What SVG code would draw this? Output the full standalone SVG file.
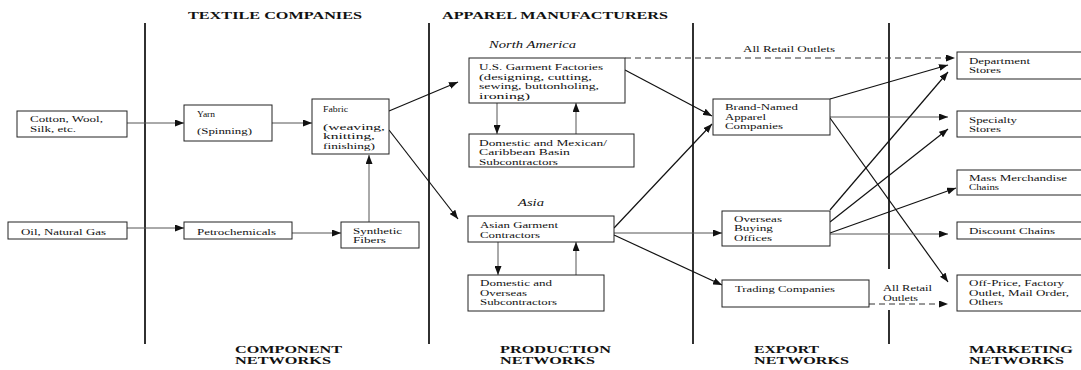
<svg xmlns="http://www.w3.org/2000/svg" width="1081" height="370" viewBox="0 0 1081 370">
  <style>
    text { font-family: "Liberation Serif", "Times New Roman", serif; font-size: 9px; fill: #111; }
    .h { font-weight: bold; font-size: 10px; }
    .i { font-style: italic; font-size: 10px; }
    .box { fill: #fff; stroke: #222; stroke-width: 1; }
    .sep { stroke: #1a1a1a; stroke-width: 1.8; fill: none; }
    .c { stroke: #111; stroke-width: 1.2; fill: none; marker-end: url(#ah); }
    .cl { stroke: #555; stroke-width: 1; fill: none; marker-end: url(#ah); }
    .d { stroke: #333; stroke-width: 1; stroke-dasharray: 6 4; fill: none; marker-end: url(#ah); }
  </style>
  <defs>
    <marker id="ah" markerUnits="userSpaceOnUse" markerWidth="9" markerHeight="7" refX="9" refY="3.5" orient="auto">
      <path d="M0,0 L9,3.5 L0,7 z" fill="#111"/>
    </marker>
  </defs>
  <rect width="1081" height="370" fill="#fff"/>

  <!-- column separators -->
  <g id="separators">
    <line class="sep" x1="145" y1="23" x2="145" y2="344"/>
    <line class="sep" x1="429" y1="23" x2="429" y2="344"/>
    <line class="sep" x1="693" y1="23" x2="693" y2="344"/>
    <line class="sep" x1="889" y1="23" x2="889" y2="269"/>
    <line class="sep" x1="889" y1="310" x2="889" y2="344"/>
  </g>

  <!-- column headings -->
  <g id="headings">
    <text class="h" x="188" y="19" textLength="174" lengthAdjust="spacingAndGlyphs">TEXTILE COMPANIES</text>
    <text class="h" x="442" y="19" textLength="226" lengthAdjust="spacingAndGlyphs">APPAREL MANUFACTURERS</text>
    <text class="h" x="235" y="352.5" textLength="107" lengthAdjust="spacingAndGlyphs">COMPONENT</text>
    <text class="h" x="235" y="364" textLength="96" lengthAdjust="spacingAndGlyphs">NETWORKS</text>
    <text class="h" x="500" y="352.5" textLength="111" lengthAdjust="spacingAndGlyphs">PRODUCTION</text>
    <text class="h" x="500" y="364" textLength="95" lengthAdjust="spacingAndGlyphs">NETWORKS</text>
    <text class="h" x="754" y="352.5" textLength="65" lengthAdjust="spacingAndGlyphs">EXPORT</text>
    <text class="h" x="754" y="364" textLength="95" lengthAdjust="spacingAndGlyphs">NETWORKS</text>
    <text class="h" x="969" y="352.5" textLength="104" lengthAdjust="spacingAndGlyphs">MARKETING</text>
    <text class="h" x="969" y="364" textLength="95" lengthAdjust="spacingAndGlyphs">NETWORKS</text>
    <text class="i" x="489" y="47.5" textLength="87" lengthAdjust="spacingAndGlyphs">North America</text>
    <text class="i" x="518" y="206" textLength="26" lengthAdjust="spacingAndGlyphs">Asia</text>
  </g>

  <!-- connectors -->
  <g id="connectors">
    <line class="cl" x1="127" y1="123" x2="184" y2="123"/>
    <line class="cl" x1="272" y1="123" x2="312" y2="123"/>
    <line class="cl" x1="127" y1="228" x2="184" y2="228"/>
    <line class="cl" x1="292" y1="233" x2="341" y2="233"/>
    <line class="cl" x1="369" y1="222" x2="369" y2="155"/>
    <line class="c" x1="389" y1="111" x2="458" y2="82"/>
    <line class="c" x1="389" y1="130" x2="458" y2="219"/>
    <line class="cl" x1="497" y1="103" x2="497" y2="134"/>
    <line class="cl" x1="576" y1="134" x2="576" y2="103"/>
    <line class="c" x1="625" y1="70" x2="712" y2="116"/>
    <line class="d" x1="625" y1="58" x2="955" y2="58"/>
    <line class="cl" x1="498" y1="242" x2="498" y2="275"/>
    <line class="cl" x1="576" y1="275" x2="576" y2="242"/>
    <line class="c" x1="614" y1="228" x2="712" y2="124"/>
    <line class="cl" x1="614" y1="233" x2="722" y2="233"/>
    <line class="c" x1="614" y1="235" x2="722" y2="285"/>
    <line class="c" x1="830" y1="99" x2="948" y2="65"/>
    <line class="cl" x1="830" y1="117" x2="948" y2="117"/>
    <line class="c" x1="830" y1="118" x2="948" y2="282"/>
    <line class="c" x1="830" y1="210" x2="948" y2="72"/>
    <line class="c" x1="830" y1="222" x2="948" y2="129"/>
    <line class="c" x1="830" y1="233" x2="956" y2="188"/>
    <line class="cl" x1="830" y1="234" x2="948" y2="234"/>
    <line class="d" x1="869" y1="304" x2="948" y2="304"/>
    <text x="743" y="52" textLength="92" lengthAdjust="spacingAndGlyphs">All Retail Outlets</text>
    <text x="883" y="291" textLength="49" lengthAdjust="spacingAndGlyphs">All Retail</text>
    <text x="883" y="300.5" textLength="35" lengthAdjust="spacingAndGlyphs">Outlets</text>
  </g>

  <!-- component networks -->
  <g id="cotton">
    <rect class="box" x="17" y="111" width="110" height="26"/>
    <text x="30" y="122" textLength="73" lengthAdjust="spacingAndGlyphs">Cotton, Wool,</text>
    <text x="30" y="131.5" textLength="46" lengthAdjust="spacingAndGlyphs">Silk, etc.</text>
  </g>
  <g id="yarn">
    <rect class="box" x="184" y="105" width="88" height="36"/>
    <text x="197" y="117" textLength="18" lengthAdjust="spacingAndGlyphs">Yarn</text>
    <text x="197" y="134" textLength="55" lengthAdjust="spacingAndGlyphs">(Spinning)</text>
  </g>
  <g id="fabric">
    <rect class="box" x="312" y="99" width="77" height="55"/>
    <text x="323" y="111.5" textLength="25" lengthAdjust="spacingAndGlyphs">Fabric</text>
    <text x="323" y="129.5" textLength="62" lengthAdjust="spacingAndGlyphs">(weaving,</text>
    <text x="323" y="139" textLength="52" lengthAdjust="spacingAndGlyphs">knitting,</text>
    <text x="323" y="148.5" textLength="52" lengthAdjust="spacingAndGlyphs">finishing)</text>
  </g>
  <g id="oil">
    <rect class="box" x="8" y="222" width="119" height="17"/>
    <text x="21" y="234.5" textLength="85" lengthAdjust="spacingAndGlyphs">Oil, Natural Gas</text>
  </g>
  <g id="petrochemicals">
    <rect class="box" x="184" y="222" width="108" height="17"/>
    <text x="197" y="234.5" textLength="79" lengthAdjust="spacingAndGlyphs">Petrochemicals</text>
  </g>
  <g id="synthetic">
    <rect class="box" x="341" y="222" width="78" height="26"/>
    <text x="353" y="233.5" textLength="49" lengthAdjust="spacingAndGlyphs">Synthetic</text>
    <text x="353" y="243" textLength="33" lengthAdjust="spacingAndGlyphs">Fibers</text>
  </g>

  <!-- production networks -->
  <g id="us-factories">
    <rect class="box" x="469" y="58" width="156" height="45"/>
    <text x="479" y="70" textLength="124" lengthAdjust="spacingAndGlyphs">U.S. Garment Factories</text>
    <text x="479" y="79.5" textLength="113" lengthAdjust="spacingAndGlyphs">(designing, cutting,</text>
    <text x="479" y="89" textLength="120" lengthAdjust="spacingAndGlyphs">sewing, buttonholing,</text>
    <text x="479" y="98.5" textLength="51" lengthAdjust="spacingAndGlyphs">ironing)</text>
  </g>
  <g id="mexican-subcontractors">
    <rect class="box" x="469" y="134" width="165" height="33"/>
    <text x="479" y="145.5" textLength="128" lengthAdjust="spacingAndGlyphs">Domestic and Mexican/</text>
    <text x="479" y="155" textLength="91" lengthAdjust="spacingAndGlyphs">Caribbean Basin</text>
    <text x="479" y="164.5" textLength="79" lengthAdjust="spacingAndGlyphs">Subcontractors</text>
  </g>
  <g id="asian-contractors">
    <rect class="box" x="468" y="216" width="146" height="26"/>
    <text x="480" y="228" textLength="78" lengthAdjust="spacingAndGlyphs">Asian Garment</text>
    <text x="480" y="237.5" textLength="60" lengthAdjust="spacingAndGlyphs">Contractors</text>
  </g>
  <g id="overseas-subcontractors">
    <rect class="box" x="468" y="275" width="136" height="36"/>
    <text x="480" y="286" textLength="72" lengthAdjust="spacingAndGlyphs">Domestic and</text>
    <text x="480" y="295.5" textLength="47" lengthAdjust="spacingAndGlyphs">Overseas</text>
    <text x="480" y="305" textLength="77" lengthAdjust="spacingAndGlyphs">Subcontractors</text>
  </g>

  <!-- export networks -->
  <g id="brand-named">
    <rect class="box" x="713" y="99" width="117" height="36"/>
    <text x="725" y="110" textLength="73" lengthAdjust="spacingAndGlyphs">Brand-Named</text>
    <text x="725" y="119.5" textLength="41" lengthAdjust="spacingAndGlyphs">Apparel</text>
    <text x="725" y="129" textLength="58" lengthAdjust="spacingAndGlyphs">Companies</text>
  </g>
  <g id="buying-offices">
    <rect class="box" x="722" y="211" width="108" height="35"/>
    <text x="734" y="221.5" textLength="48" lengthAdjust="spacingAndGlyphs">Overseas</text>
    <text x="734" y="231" textLength="39" lengthAdjust="spacingAndGlyphs">Buying</text>
    <text x="734" y="240.5" textLength="38" lengthAdjust="spacingAndGlyphs">Offices</text>
  </g>
  <g id="trading">
    <rect class="box" x="722" y="280" width="147" height="27"/>
    <text x="735" y="291.5" textLength="100" lengthAdjust="spacingAndGlyphs">Trading Companies</text>
  </g>

  <!-- marketing networks -->
  <g id="department">
    <rect class="box" x="957" y="52" width="140" height="27"/>
    <text x="969" y="63.5" textLength="61" lengthAdjust="spacingAndGlyphs">Department</text>
    <text x="969" y="73" textLength="32" lengthAdjust="spacingAndGlyphs">Stores</text>
  </g>
  <g id="specialty">
    <rect class="box" x="957" y="111" width="140" height="26"/>
    <text x="969" y="122.5" textLength="48" lengthAdjust="spacingAndGlyphs">Specialty</text>
    <text x="969" y="132" textLength="32" lengthAdjust="spacingAndGlyphs">Stores</text>
  </g>
  <g id="mass">
    <rect class="box" x="957" y="170" width="140" height="25"/>
    <text x="969" y="180.5" textLength="98" lengthAdjust="spacingAndGlyphs">Mass Merchandise</text>
    <text x="969" y="190" textLength="30" lengthAdjust="spacingAndGlyphs">Chains</text>
  </g>
  <g id="discount">
    <rect class="box" x="957" y="222" width="140" height="17"/>
    <text x="969" y="234" textLength="86" lengthAdjust="spacingAndGlyphs">Discount Chains</text>
  </g>
  <g id="off-price">
    <rect class="box" x="957" y="275" width="140" height="36"/>
    <text x="969" y="286" textLength="95" lengthAdjust="spacingAndGlyphs">Off-Price, Factory</text>
    <text x="969" y="295.5" textLength="100" lengthAdjust="spacingAndGlyphs">Outlet, Mail Order,</text>
    <text x="969" y="305" textLength="34" lengthAdjust="spacingAndGlyphs">Others</text>
  </g>
</svg>
